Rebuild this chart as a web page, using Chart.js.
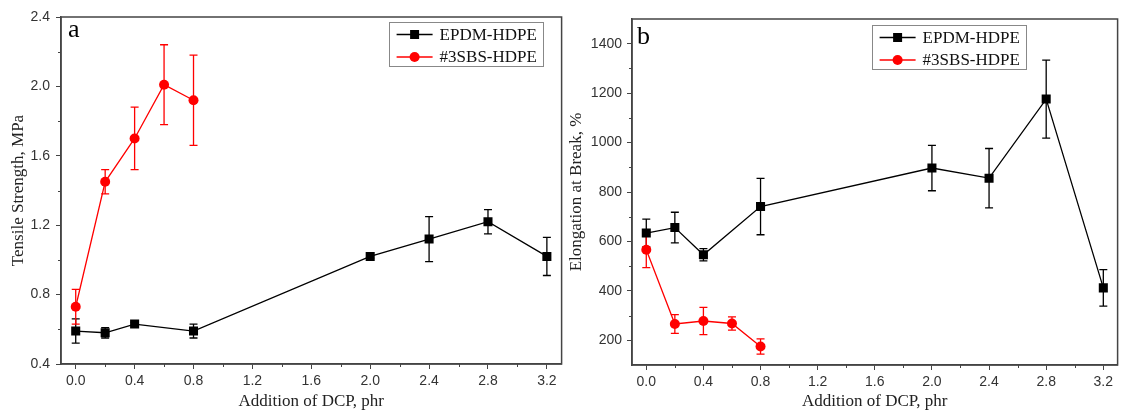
<!DOCTYPE html>
<html>
<head>
<meta charset="utf-8">
<script src="https://cdn.jsdelivr.net/npm/chart.js@4/dist/chart.umd.min.js"></script>
<style>
  body { margin: 0; background: #fff; }
  .panel { position: absolute; top: 0; height: 413px; }
  #left { left: 0; width: 568px; }
  #right { left: 566px; width: 558px; }
</style>
</head>
<body>
<div class="panel" id="left"><canvas id="tensileChart"></canvas></div>
<div class="panel" id="right"><canvas id="elongChart"></canvas></div>
<script>
// DCP levels (phr) for each blend
const epdmDcp = [0, 0.2, 0.4, 0.8, 2.0, 2.4, 2.8, 3.2];
const sbsDcp = [0, 0.2, 0.4, 0.6, 0.8];

// tensile strength, MPa (mean and error)
const epdmTensile = [0.59, 0.58, 0.63, 0.59, 1.02, 1.12, 1.22, 1.02];
const epdmTensileErr = [0.07, 0.03, 0.01, 0.04, 0.01, 0.13, 0.07, 0.11];
const sbsTensile = [0.73, 1.45, 1.70, 2.01, 1.92];
const sbsTensileErr = [0.10, 0.07, 0.18, 0.23, 0.26];

// elongation at break, % (mean and error)
const epdmElong = [634, 656, 546, 741, 897, 856, 1176, 412];
const epdmElongErr = [56, 62, 25, 114, 92, 120, 158, 74];
const sbsElong = [566, 266, 278, 268, 175];
const sbsElongErr = [72, 38, 55, 27, 31];

// tick labels
const dcpTicks = [0, 0.4, 0.8, 1.2, 1.6, 2.0, 2.4, 2.8, 3.2];
const tensileTicks = [0.4, 0.8, 1.2, 1.6, 2.0, 2.4];
const elongTicks = [200, 400, 600, 800, 1000, 1200, 1400];

const seriesNames = ['EPDM-HDPE', '#3SBS-HDPE'];

const SANS = "'Liberation Sans', Arial, sans-serif";
const SERIF = "'Liberation Serif', 'Times New Roman', serif";
const AXIS = '#444';

/**
 * ghép mảng x, y, sai số thành các điểm
 */
function points(xs, ys, errs) {
    return xs.map((x, i) => ({ x: x, y: ys[i], err: errs[i] }));
}

/**
 * midpoints between major ticks, used for the small ticks
 */
function minorOf(ticks) {
    let res = [];
    for (let i = 0; i < ticks.length - 1; i++) {
        res.push((ticks[i] + ticks[i + 1]) / 2);
    }
    return res;
}

// error bars, drawn under the markers
const errorBars = {
    id: 'errorBars',
    beforeDatasetsDraw(chart) {
        const { ctx, scales: { x, y } } = chart;
        ctx.save();
        chart.data.datasets.forEach(ds => {
            ctx.strokeStyle = ds.borderColor;
            ctx.lineWidth = 1.3;
            ds.data.forEach(p => {
                const px = x.getPixelForValue(p.x);
                const top = y.getPixelForValue(p.y + p.err);
                const bot = y.getPixelForValue(p.y - p.err);
                ctx.beginPath();
                ctx.moveTo(px, top); ctx.lineTo(px, bot);
                ctx.moveTo(px - 4, top); ctx.lineTo(px + 4, top);
                ctx.moveTo(px - 4, bot); ctx.lineTo(px + 4, bot);
                ctx.stroke();
            });
        });
        ctx.restore();
    }
};

// closed frame, minor ticks, panel letter and legend box
const decor = {
    id: 'decor',
    afterDraw(chart, args, opts) {
        const { ctx, chartArea: a, scales: { x, y } } = chart;
        ctx.save();
        ctx.strokeStyle = AXIS;
        ctx.lineWidth = 1.5;
        ctx.strokeRect(a.left, a.top, a.right - a.left, a.bottom - a.top);

        // small ticks
        ctx.lineWidth = 1;
        ctx.beginPath();
        minorOf(dcpTicks).forEach(v => {
            const px = Math.round(x.getPixelForValue(v)) + 0.5;
            ctx.moveTo(px, a.bottom); ctx.lineTo(px, a.bottom + 3);
        });
        minorOf(opts.yTicks).forEach(v => {
            const py = Math.round(y.getPixelForValue(v)) + 0.5;
            ctx.moveTo(a.left, py); ctx.lineTo(a.left - 3, py);
        });
        ctx.stroke();

        // panel letter
        ctx.fillStyle = '#000';
        ctx.font = '26px ' + SERIF;
        ctx.textBaseline = 'alphabetic';
        ctx.textAlign = 'left';
        ctx.fillText(opts.letter, a.left + opts.letterDx, a.top + opts.letterDy);

        // legend
        const bw = 154, bh = 44;
        const bx = a.right - opts.legendRight - bw;
        const by = a.top + opts.legendTop;
        ctx.strokeStyle = '#888';
        ctx.lineWidth = 1;
        ctx.strokeRect(Math.round(bx) + 0.5, Math.round(by) + 0.5, bw, bh);
        ctx.font = '17px ' + SERIF;
        ctx.textBaseline = 'middle';
        chart.data.datasets.forEach((ds, i) => {
            const ry = by + 12.5 + i * 22.5;
            ctx.strokeStyle = ds.borderColor;
            ctx.lineWidth = 1.3;
            ctx.beginPath();
            ctx.moveTo(bx + 8, ry); ctx.lineTo(bx + 44, ry);
            ctx.stroke();
            ctx.fillStyle = ds.borderColor;
            ctx.beginPath();
            if (ds.pointStyle === 'rect') {
                ctx.rect(bx + 21.5, ry - 4.5, 9, 9);
            } else {
                ctx.arc(bx + 26, ry, 5, 0, Math.PI * 2);
            }
            ctx.fill();
            ctx.fillStyle = '#111';
            ctx.fillText(ds.label, bx + 51, ry + 1);
        });
        ctx.restore();
    }
};

/**
 * vẽ một ô biểu đồ
 * @param id canvas id
 * @param epdm điểm của EPDM-HDPE
 * @param sbs điểm của #3SBS-HDPE
 * @param yOpt cấu hình trục y và trang trí
 */
function panelChart(id, epdm, sbs, yOpt) {
    const data = {
        datasets: [{
            label: seriesNames[0],
            data: epdm,
            borderColor: '#000000',
            backgroundColor: '#000000',
            borderWidth: 1.3,
            pointStyle: 'rect',
            pointRadius: 6.4,
            pointBorderWidth: 0,
            order: 2
        }, {
            label: seriesNames[1],
            data: sbs,
            borderColor: '#ff0000',
            backgroundColor: '#ff0000',
            borderWidth: 1.3,
            pointStyle: 'circle',
            pointRadius: 5,
            pointBorderWidth: 0,
            order: 1
        }]
    };

    const config = {
        type: 'line',
        data: data,
        options: {
            responsive: true,
            maintainAspectRatio: false,
            animation: false,
            layout: { padding: yOpt.padding },
            plugins: {
                legend: { display: false },
                tooltip: { enabled: false },
                decor: yOpt.decor
            },
            scales: {
                x: {
                    type: 'linear',
                    min: -0.1,
                    max: 3.3,
                    afterBuildTicks: s => { s.ticks = dcpTicks.map(v => ({ value: v })); },
                    afterFit: s => { s.height = yOpt.xHeight; },
                    grid: { drawOnChartArea: false, tickLength: 5, tickColor: AXIS, tickWidth: 1 },
                    border: { color: AXIS, width: 1.5 },
                    ticks: {
                        color: '#333',
                        padding: 4,
                        maxRotation: 0,
                        font: { family: SANS, size: 14 },
                        callback: v => v.toFixed(1)
                    },
                    title: {
                        display: true,
                        text: 'Addition of DCP, phr',
                        color: '#222',
                        font: { family: SERIF, size: 17 },
                        padding: { top: 0, bottom: 1 }
                    }
                },
                y: {
                    type: 'linear',
                    min: yOpt.min,
                    max: yOpt.max,
                    afterBuildTicks: s => { s.ticks = yOpt.ticks.map(v => ({ value: v })); },
                    afterFit: s => { s.width = yOpt.yWidth; },
                    grid: { drawOnChartArea: false, tickLength: 5, tickColor: AXIS, tickWidth: 1 },
                    border: { color: AXIS, width: 1.5 },
                    ticks: {
                        color: '#333',
                        padding: yOpt.tickPad,
                        font: { family: SANS, size: 14 },
                        callback: yOpt.format
                    },
                    title: {
                        display: true,
                        text: yOpt.title,
                        color: '#222',
                        font: { family: SERIF, size: 17 },
                        padding: { top: yOpt.titlePad, bottom: 0 }
                    }
                }
            }
        },
        plugins: [errorBars, decor]
    };

    const ctx = document.getElementById(id);
    new Chart(ctx, config);
}

panelChart('tensileChart',
    points(epdmDcp, epdmTensile, epdmTensileErr),
    points(sbsDcp, sbsTensile, sbsTensileErr),
    {
        min: 0.4, max: 2.4, ticks: tensileTicks,
        format: v => v.toFixed(1),
        title: 'Tensile Strength, MPa',
        padding: { top: 17, right: 4, left: 0, bottom: 0 },
        xHeight: 49, yWidth: 61, tickPad: 6, titlePad: 8,
        decor: { yTicks: tensileTicks, letter: 'a', letterDx: 7, letterDy: 20, legendRight: 19, legendTop: 5 }
    });

panelChart('elongChart',
    points(epdmDcp, epdmElong, epdmElongErr),
    points(sbsDcp, sbsElong, sbsElongErr),
    {
        min: 100, max: 1500, ticks: elongTicks,
        format: v => String(v),
        title: 'Elongation at Break, %',
        padding: { top: 19, right: 3, left: 0, bottom: 0 },
        xHeight: 48, yWidth: 66, tickPad: 5, titlePad: 0,
        decor: { yTicks: elongTicks, letter: 'b', letterDx: 5, letterDy: 25, legendRight: 92, legendTop: 6 }
    });
</script>
</body>
</html>
